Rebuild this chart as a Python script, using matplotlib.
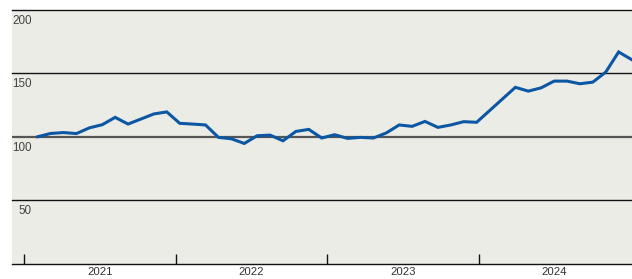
import matplotlib
matplotlib.use("Agg")
import matplotlib.pyplot as plt
import numpy as np
import pandas as pd

plt.rcParams['font.family'] = ['Liberation Sans', 'DejaVu Sans']

# ---- data ----
months = pd.date_range('2021-02-01', periods=47, freq='MS').strftime('%Y-%m').tolist()
values = [100, 102.6, 103.3, 102.5, 107, 109.5, 115.3, 110, 114, 118, 119.6, 110.6,
          110, 109.3, 99.5, 98.4, 94.7, 100.8, 101.3, 96.8, 104.2, 105.8, 99, 101.6,
          98.7, 99.5, 99, 103, 109.3, 108.2, 112.1, 107.4, 109.3, 111.9, 111.4, 120.6,
          129.8, 139, 136, 138.6, 143.9, 143.9, 141.8, 143.1, 151, 166.9, 160.9]
year_labels = ['2021', '2022', '2023', '2024']
y_ticks = [50, 100, 150, 200]

# ---- layout ----
W, H = 632, 279
fig = plt.figure(figsize=(W / 100, H / 100), dpi=100)
fig.patch.set_facecolor('white')
left_px, right_px, top_px, bottom_px = 12, 632, 10, 263.5
ax = fig.add_axes([left_px / W, (H - bottom_px) / H, (right_px - left_px) / W, (bottom_px - top_px) / H])
ax.set_facecolor('#ecece7')

x = np.arange(len(values))
# pixel calibration of the x axis (position of first point and spacing)
p0, step = 37.7, 12.91
ax.set_xlim((left_px - p0) / step, (right_px - p0) / step)
ax.set_ylim(0, 200)

# gridlines
for v in y_ticks:
    if v == 100:
        ax.axhline(v, color='#555555', lw=1.6, zorder=1)
    else:
        ax.axhline(v, color='#111111', lw=1.0, zorder=1, clip_on=False)

ax.plot(x, values, color='#0b57a4', lw=2.2, zorder=3, solid_joinstyle='miter')

# y labels inside plot, right aligned, just below gridline
for v in y_ticks:
    ax.annotate(str(v), xy=((31.5 - left_px) / (right_px - left_px), v),
                xycoords=('axes fraction', 'data'), xytext=(0, -5),
                textcoords='offset pixels', ha='right', va='top',
                fontsize=8.4, color='#444444')

# year ticks
tick_px = [24, 175.7, 327, 478.5, 630]
tick_pos = [(p - p0) / step for p in tick_px]
ax.set_xticks(tick_pos[:4])
ax.set_xticklabels([])
ax.tick_params(axis='x', which='major', direction='in', length=7, width=1, color='#111111')
mid = [(tick_pos[i] + tick_pos[i + 1]) / 2 for i in range(4)]
ax.set_xticks(mid, minor=True)
ax.set_xticklabels(year_labels, minor=True)
ax.tick_params(axis='x', which='minor', length=0, pad=2.2, labelsize=8.2, labelcolor='#333333')
ax.set_yticks([])

for s in ['left', 'right', 'top']:
    ax.spines[s].set_visible(False)
ax.spines['bottom'].set_color('#111111')
ax.spines['bottom'].set_linewidth(1.0)

fig.savefig('out.png', dpi=100)
